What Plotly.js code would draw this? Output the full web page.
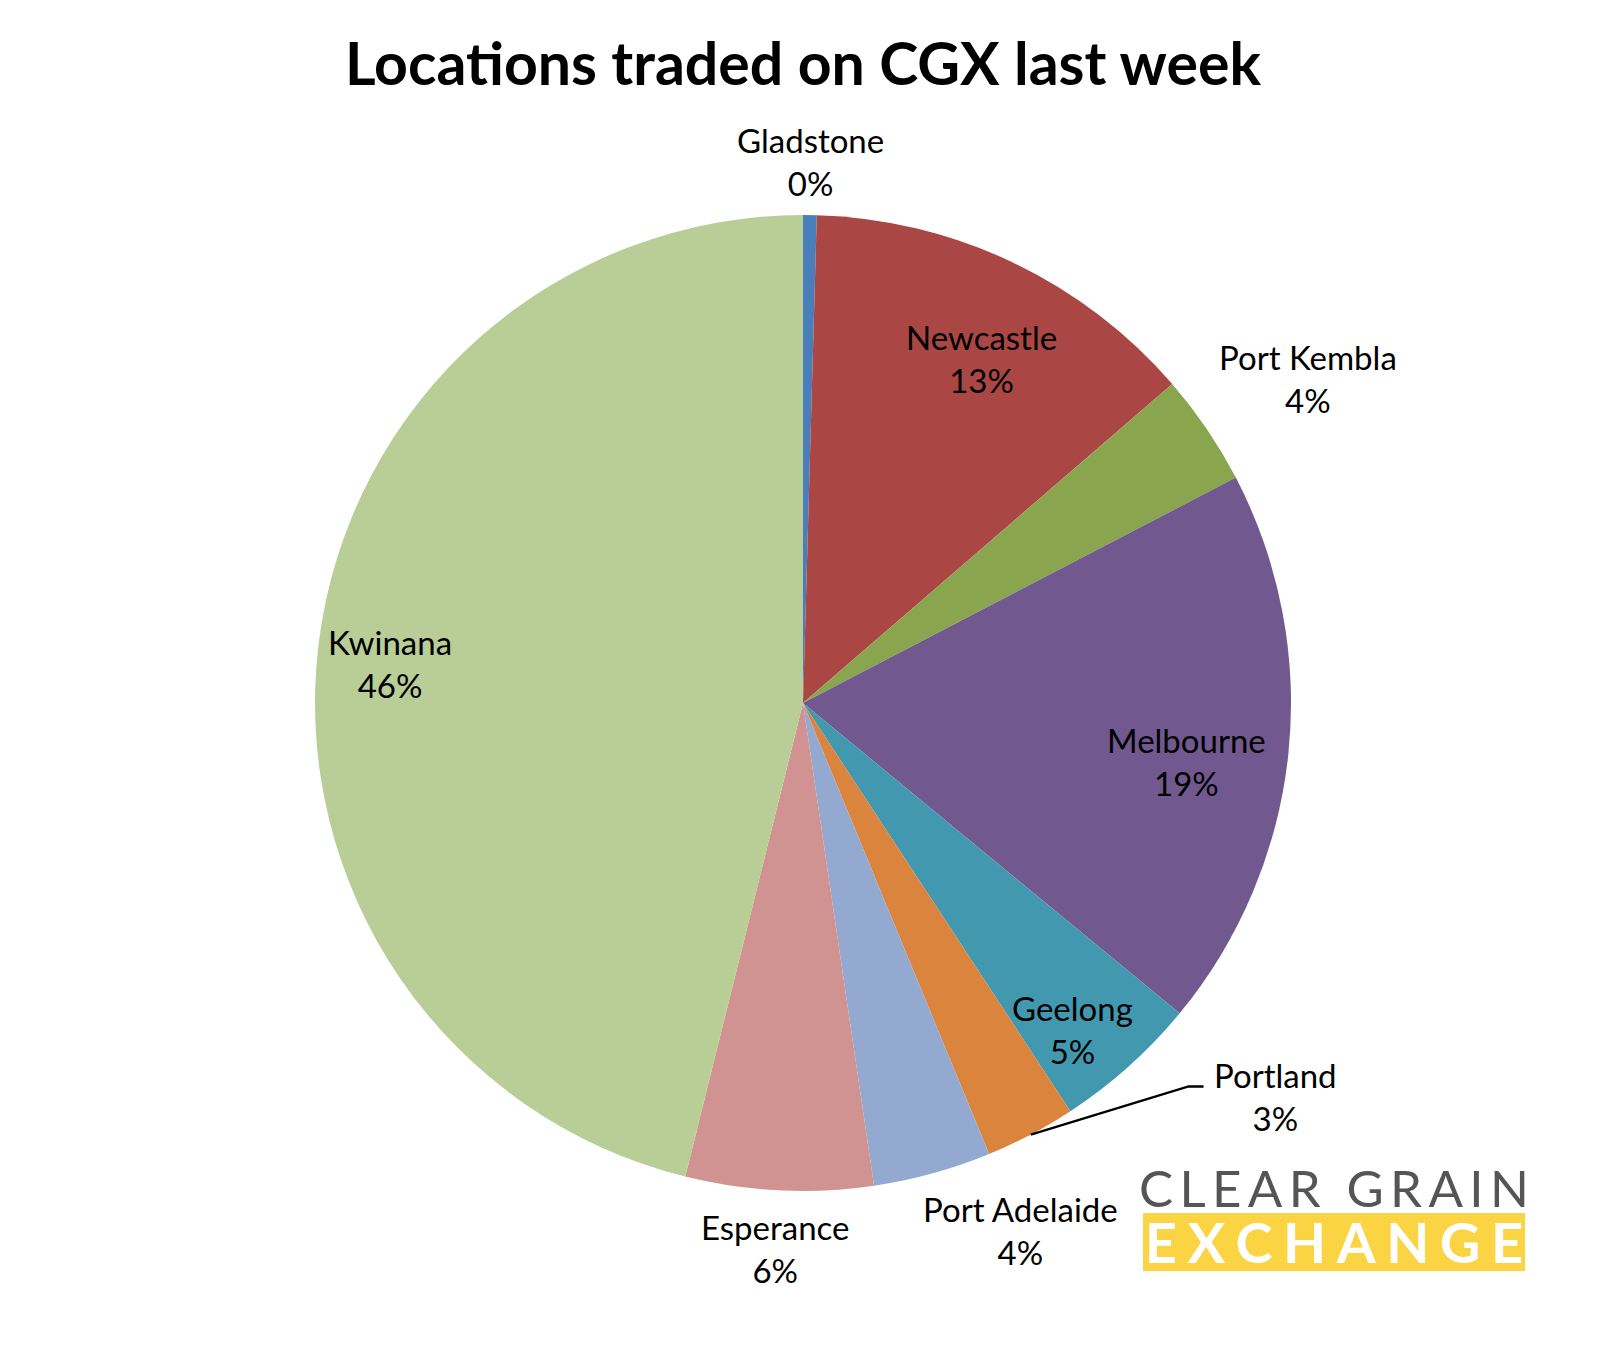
<!DOCTYPE html>
<html>
<head>
<meta charset="utf-8">
<script src="https://cdn.plot.ly/plotly-3.0.1.min.js"></script>
<style>
  html, body { margin: 0; padding: 0; background: #ffffff; }
  #chart { width: 1608px; height: 1351px; }
</style>
</head>
<body>
<div id="chart"></div>
<script>
// ---------- data ----------
const locations = ['Gladstone', 'Newcastle', 'Port Kembla', 'Melbourne', 'Geelong', 'Portland', 'Port Adelaide', 'Esperance', 'Kwinana'];
const shares = [0.45, 13.2, 3.7, 18.6, 4.8, 3.0, 3.9, 6.2, 46.1];
const sliceColors = ['#4A7EBB', '#AA4643', '#89A54E', '#71588F', '#4198AF', '#DB843D', '#93A9CF', '#D19392', '#B9CD96'];
const chartTitle = 'Locations traded on CGX last week';
const logoTop = 'CLEAR GRAIN';
const logoBottom = 'EXCHANGE';

// ---------- geometry / styling ----------
const W = 1608, H = 1351;
const CX = 803, CY = 703, R = 488;           // pie centre and radius in pixels
// label placement (radius as fraction of R, angle shift in degrees from slice middle)
const labelRadius = [1.109, 0.794, 1.23, 0.794, 0.867, 1.26, 1.17, 1.12, 0.85];
const labelShift  = [0, 2.0, 1.5, 2.7, 2.3, -22.4, -7.0, 0.1, -1.5];
const leaderFor = 'Portland';

const FONT = 'Lato, "Open Sans", sans-serif';
const px2x = p => p / W;
const px2y = p => 1 - p / H;

const total = shares.reduce((a, b) => a + b, 0);
let cum = 0;
const annotations = [];
const shapes = [];
locations.forEach((name, i) => {
  const frac = shares[i] / total;
  const midDeg = (cum + frac / 2) * 360;
  cum += frac;
  const a = (midDeg + labelShift[i]) * Math.PI / 180;
  const lx = CX + Math.sin(a) * R * labelRadius[i];
  const ly = CY - Math.cos(a) * R * labelRadius[i];
  annotations.push({
    x: px2x(lx), y: px2y(ly), xref: 'paper', yref: 'paper',
    xanchor: 'center', yanchor: 'middle', showarrow: false,
    text: name + '<br>' + Math.round(frac * 100) + '%',
    font: { family: FONT, size: 33, color: '#000000' }
  });
  if (name === leaderFor) {
    const m = midDeg * Math.PI / 180;
    const sx = CX + Math.sin(m) * R * 1.0;
    const sy = CY - Math.cos(m) * R * 1.0;
    const ex = lx - 72, ey = ly - 10;
    shapes.push({
      type: 'path', xref: 'paper', yref: 'paper',
      path: `M ${px2x(sx)} ${px2y(sy)} L ${px2x(ex - 15)} ${px2y(ey)} L ${px2x(ex)} ${px2y(ey)}`,
      line: { color: '#000000', width: 2.5 }
    });
  }
});

// logo: CLEAR GRAIN / EXCHANGE (one text block over a yellow band)
const spaced = (s, gap) => s.split('').join(gap);
shapes.push({
  type: 'rect', xref: 'paper', yref: 'paper',
  x0: px2x(1143), x1: px2x(1525), y0: px2y(1271), y1: px2y(1213),
  fillcolor: '#FBD444', line: { width: 0 }
});
annotations.push({
  x: px2x(1334), y: px2y(1216), xref: 'paper', yref: 'paper',
  xanchor: 'center', yanchor: 'middle', showarrow: false, align: 'center',
  text: '<span style="font-size:51px;color:#555555">' + spaced(logoTop, '\u2009') + '</span><br>' +
        '<span style="font-size:56px;color:#ffffff;font-weight:700">' + spaced(logoBottom, '\u2009\u200A') + '</span>',
  font: { family: FONT, size: 43, color: '#555555' }
});

const trace = {
  type: 'pie',
  labels: locations,
  values: shares,
  sort: false,
  direction: 'clockwise',
  rotation: 0,
  textinfo: 'none',
  hoverinfo: 'label+percent',
  marker: { colors: sliceColors, line: { width: 0 } },
  domain: { x: [px2x(CX - R), px2x(CX + R)], y: [px2y(CY + R), px2y(CY - R)] }
};

const layout = {
  width: W, height: H,
  margin: { l: 0, r: 0, t: 0, b: 0 },
  paper_bgcolor: '#ffffff',
  showlegend: false,
  title: {
    text: chartTitle, x: px2x(803), xanchor: 'center', y: px2y(64), yanchor: 'middle',
    font: { family: FONT, size: 59, color: '#000000', weight: 700 }
  },
  annotations: annotations,
  shapes: shapes
};

Plotly.newPlot('chart', [trace], layout, { displayModeBar: false, staticPlot: true });
</script>
</body>
</html>
